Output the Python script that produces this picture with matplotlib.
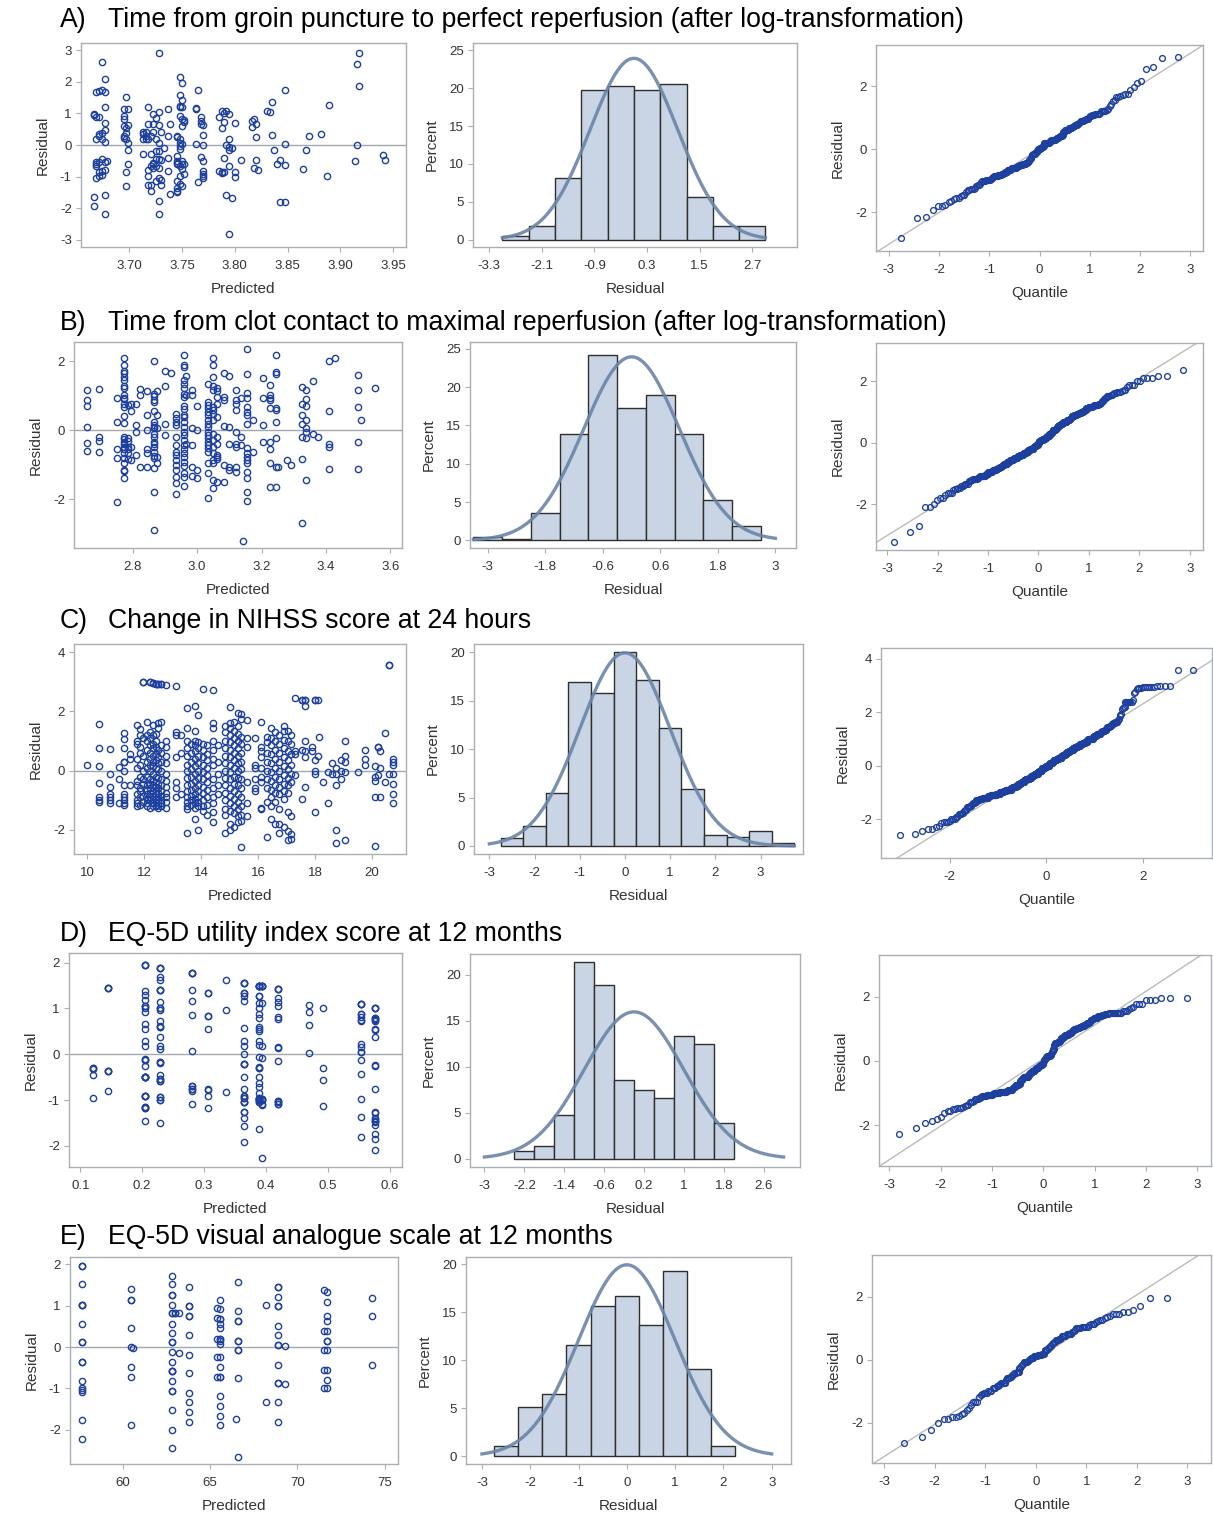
import numpy as np
import matplotlib
matplotlib.use('Agg')
import matplotlib.pyplot as plt
from statistics import NormalDist

plt.rcParams['font.family'] = ['Liberation Sans', 'DejaVu Sans']
plt.rcParams['axes.unicode_minus'] = False

# ---------------- data ----------------
titles = [
    'Time from groin puncture to perfect reperfusion (after log-transformation)',
    'Time from clot contact to maximal reperfusion (after log-transformation)',
    'Change in NIHSS score at 24 hours',
    'EQ-5D utility index score at 12 months',
    'EQ-5D visual analogue scale at 12 months',
]
letters = ['A)', 'B)', 'C)', 'D)', 'E)']

# scatter: (predicted, [residuals at that predicted value]); repeated values = overlapping markers
A_groups = [
    (3.667, [0.97, -1.65, -1.93, 0.95]),
    (3.669, [1.67, 0.9, 0.18, -0.55, -0.61, -0.66, -1.06]),
    (3.672, [1.7, 0.34, 0.28, -0.53, -0.87, -0.98, 0.88]),
    (3.674, [2.62, 1.75, 0.39, 0.2, -0.45, -0.82, -0.95]),
    (3.677, [2.1, 1.67, 1.2, 0.7, 0.46, 0.1, -0.55, -0.8, -1.58, -2.2]),
    (3.679, [-0.52]),
    (3.695, [1.13, 0.92, 0.83, 0.6, 0.28, 0.23]),
    (3.697, [1.53, 0.55, 0.39, 0.18, -0.87, -1.3]),
    (3.699, [1.13, 0.62, 0.07, -0.16, -0.59]),
    (3.713, [0.42, 0.34, 0.18, -0.28]),
    (3.716, [0.42, 0.2, 0.28]),
    (3.718, [1.2, 0.68, 0.18, -0.8, -0.98, -1.27]),
    (3.721, [0.3, -0.28, -0.66, -1.27, -1.45]),
    (3.723, [0.97, 0.68, 0.42, -0.56, -0.61, -0.72]),
    (3.726, [0.87, 0.2, -0.18, -0.45, -0.66, -1.14]),
    (3.728, [2.92, 1.05, 0.62, 0.07, -0.18, -0.45, -0.72, -1.03, -1.77, -2.17]),
    (3.730, [0.42, -0.48, -1.1, -1.27]),
    (3.733, [-0.08]),
    (3.737, [1.13, 0.3, -0.4, -0.83]),
    (3.739, [0.65, -1.56]),
    (3.745, [0.3, 0.25, -0.35, -0.5, -0.56, -0.61, -1.14, -1.36, -1.45, -1.5]),
    (3.748, [2.16, 1.57, 1.25, 1.2, 0.92, 0.18, 0.07, -0.03, -0.12, -0.66, -0.98, -1.24]),
    (3.750, [1.97, 1.42, 1.2, 0.81, 0.6, 0.02, -0.5, -0.61, -0.77, -1.3]),
    (3.752, [0.78, 0.72, -0.6, -0.92]),
    (3.763, [1.16, 1.13, 0.02]),
    (3.765, [1.74, -1.17]),
    (3.768, [0.88, 0.76, 0.68, -0.38]),
    (3.770, [0.62, 0.31, 0.0, -0.5, -0.82, -0.93, -0.98, -1.03]),
    (3.785, [0.9, -0.82]),
    (3.788, [1.07, 0.55, -0.87, -0.9]),
    (3.790, [1.02, 0.73, -0.42, -0.87]),
    (3.792, [1.07, 0.0, -1.57]),
    (3.795, [0.97, 0.2, -0.05, -0.16, -0.66, -2.82]),
    (3.797, [-0.1, -1.69]),
    (3.800, [0.7, -0.87, -1.01]),
    (3.806, [-0.47]),
    (3.816, [0.57, 0.76]),
    (3.818, [0.81, -0.72]),
    (3.820, [0.67, 0.26, -0.47]),
    (3.822, [-0.79]),
    (3.831, [1.09]),
    (3.833, [1.05]),
    (3.835, [1.37, 0.31]),
    (3.837, [-0.16]),
    (3.840, [-0.59]),
    (3.843, [-0.47, -1.8]),
    (3.848, [1.73, 0.04, -0.63, -1.8]),
    (3.865, [-0.75]),
    (3.867, [-0.16]),
    (3.870, [0.28]),
    (3.882, [0.34]),
    (3.887, [-0.98]),
    (3.889, [1.28]),
    (3.914, [-0.52]),
    (3.916, [2.55, 0.0]),
    (3.918, [2.9, 1.88]),
    (3.940, [-0.32]),
    (3.942, [-0.48]),
]

B_groups = [
    (2.657, [1.16, 0.87, 0.69, 0.1, -0.37, -0.6]),
    (2.696, [1.2, -0.19, -0.31, -0.63]),
    (2.750, [0.94, 0.24, -0.55, -0.82, -2.08]),
    (2.774, [2.1, 1.88, 1.73, 1.67, 1.54, 1.45, 1.27, 1.22, 1.03, 0.94, 0.9, 0.75, 0.66,
             0.41, 0.21, -0.19, -0.27, -0.34, -0.41, -0.48, -0.56, -0.67, -0.82, -0.96,
             -1.16, -1.18, -1.4]),
    (2.785, [0.74, -0.24, -0.31, -0.48, -0.56, -0.67, -0.85]),
    (2.795, [0.75, 0.56, -0.5, -0.87]),
    (2.810, [0.75, 0.14, -0.05, -0.72]),
    (2.823, [1.2, 1.01, -1.06]),
    (2.845, [1.14, 0.43, 0.0, -0.55, -0.67, -1.06]),
    (2.865, [2.0, 1.06, 0.98, 0.89, 0.82, 0.55, 0.24, 0.14, 0.1, 0.05, -0.1, -0.19,
             -0.34, -0.39, -0.48, -0.63, -0.75, -0.82, -1.11, -1.79, -2.91]),
    (2.877, [1.14, 0.43, 0.05, -0.77, -0.94]),
    (2.900, [1.72, 1.28, 0.17, -0.14]),
    (2.920, [1.66]),
    (2.935, [0.46, 0.34, 0.24, 0.14, -0.19, -0.43, -0.63, -0.72, -0.87, -1.01, -1.16,
             -1.35, -1.54, -1.86]),
    (2.958, [2.17, 1.88, 1.83, 1.47, 1.35, 1.23, 1.04, 0.96, 0.69, 0.61, 0.45, 0.37,
             0.24, 0.1, -0.05, -0.14, -0.29, -0.43, -0.56, -0.67, -0.77, -0.92, -1.04,
             -1.23, -1.35, -1.62]),
    (2.966, [1.56, 1.03, -0.39]),
    (2.985, [1.16, 1.01, 0.05, -0.43, -1.33, -1.06]),
    (3.000, [0.69, 0.0, -1.16, -1.4]),
    (3.035, [1.35, 0.82, 0.72, 0.63, 0.53, 0.43, 0.31, 0.19, 0.1, -0.05, -0.14, -0.24,
             -0.34, -0.43, -0.53, -0.63, -0.96, -1.25, -1.98]),
    (3.050, [2.1, 1.88, 1.54, 1.27, 1.18, 0.67, 0.58, 0.48, 0.29, -0.1, -0.29, -0.48,
             -0.67, -0.87, -0.96, -1.45, -1.69]),
    (3.062, [1.23, 1.14, 0.96, 0.77, 0.39, -0.19, -0.39, -0.72, -0.77, -0.85, -1.49]),
    (3.085, [1.66, 0.96, 0.87, 0.12, -1.01, -1.49]),
    (3.100, [1.56, 0.1, -0.39, -1.06, -1.16]),
    (3.120, [1.16, 0.87, 0.75, 0.58, -0.05, -0.39, -0.48, -1.06, -1.2]),
    (3.135, [0.92, -0.19, -0.43]),
    (3.143, [-3.21]),
    (3.155, [2.36, 1.64, 1.08, 0.92, 0.67, 0.53, 0.43, 0.17, -0.53, -0.67, -0.77,
             -0.87, -0.96, -1.2, -1.38, -1.78, -2.07]),
    (3.175, [0.29, -0.63]),
    (3.205, [1.52, 0.94, 0.14, -0.34]),
    (3.225, [1.3, 1.01, 0.94, 0.87, 0.63, -0.94, -1.64, -0.34, -0.56]),
    (3.245, [2.17, 1.69, 1.64, 0.63, 0.58, 0.24, -0.24, -1.06, -1.64]),
    (3.252, [-1.06]),
    (3.280, [-0.87]),
    (3.292, [-1.01]),
    (3.325, [1.25, 0.77, 0.43, 0.17, -0.19, -0.85, -2.7]),
    (3.338, [1.16, 0.9, 0.69, 0.29, 0.05, -0.05, -0.24, -1.45]),
    (3.360, [1.43, -0.1]),
    (3.376, [-0.19]),
    (3.410, [2.0, 0.55, -0.4, -0.48, -1.14]),
    (3.427, [2.1]),
    (3.500, [1.59, 1.16, 0.67, -0.34, -1.14]),
    (3.508, [0.29]),
    (3.552, [1.23]),
]

C_groups = [
    (10.0, [0.2]),
    (10.4, [1.57, 0.77, 0.17, -0.43, -0.9, -1.0, -1.05]),
    (10.8, [0.72, -0.1, -0.55, -0.8, -0.9, -1.0, -1.1]),
    (11.1, [0.12, -0.3, -1.1]),
    (11.3, [1.28, 1.06, 0.75, 0.3, 0.28, 0.0, -0.5, -0.8, -0.9, -1.0, -1.1, -1.15]),
    (11.5, [0.55, 0.4, -0.5]),
    (11.75, [1.55, 1.0, 0.9, 0.4, 0.1, -0.35, -0.5, -0.8, -1.0, -1.1, -1.2]),
    (11.85, [1.4, 1.2, 0.8, 0.6, 0.2, -0.2, -0.6, -0.7, -0.9, -1.15]),
    (11.95, [2.98, 2.98, 1.1, 0.5, 0.0, -0.3, -0.45, -0.85, -1.05]),
    (12.1, [1.65, 1.2, 1.0, 0.7, 0.3, 0.1, -0.2, -0.5, -0.65, -0.8, -0.95, -1.1, -1.2]),
    (12.2, [2.98, 2.98, 1.3, 1.1, 0.85, 0.6, 0.4, 0.2, 0.0, -0.3, -0.45, -0.6, -0.75,
            -0.9, -1.0, -1.25]),
    (12.3, [2.95, 2.95, 1.55, 1.2, 0.9, 0.75, 0.5, 0.3, 0.15, -0.1, -0.35, -0.5, -0.7,
            -0.85, -0.95, -1.1, -1.2]),
    (12.4, [2.93, 2.93, 1.25, 1.0, 0.8, 0.55, 0.35, 0.1, -0.2, -0.4, -0.55, -0.7, -0.8,
            -0.95, -1.05, -1.2]),
    (12.5, [2.93, 2.93, 1.6, 1.45, 0.7, 0.45, 0.25, 0.05, -0.25, -0.45, -0.6, -0.75,
            -0.9, -1.0, -1.15, -1.25]),
    (12.6, [2.92, 2.92, 1.65, 0.85, 0.6, 0.3, 0.0, -0.3, -0.5, -0.7, -0.85, -1.0, -1.1,
            -1.2]),
    (12.75, [2.9, 1.0, 0.8, 0.5, 0.25, -0.1, -0.35, -0.55, -0.75, -0.9, -1.05, -1.25]),
    (13.1, [2.85, 1.3, 1.2, 0.45, -0.4, -0.6, -0.9]),
    (13.3, [1.2, 0.6, -0.8]),
    (13.5, [2.12, 1.45, 1.0, 0.75, 0.5, 0.2, 0.0, -0.25, -0.5, -0.7, -0.9, -1.05, -1.2,
            -1.3, -2.1]),
    (13.65, [0.9, 0.6, 0.3, 0.05, -0.2, -0.45, -0.65, -0.85, -1.0, -1.15]),
    (13.8, [2.2, 1.35, 1.0, 0.85, 0.65, 0.4, 0.15, -0.1, -0.35, -0.6, -0.8, -0.95, -1.1,
            -1.25, -1.65]),
    (13.9, [1.87, 0.95, 0.75, 0.5, 0.25, 0.0, -0.25, -0.5, -0.7, -0.9, -1.05, -1.2, -2.0]),
    (14.05, [2.75, 0.9, 0.7, 0.45, 0.2, -0.05, -0.3, -0.55, -0.75, -1.0, -1.2, -1.35]),
    (14.2, [0.85, 0.55, 0.35, 0.1, -0.15, -0.4, -0.65, -0.9, -1.15, -1.5]),
    (14.4, [2.72, 1.6, 1.45, 1.0, 0.7, 0.4, 0.2, -0.3, -0.6, -0.9, -1.1, -1.4, -1.75]),
    (14.6, [0.85, 0.3, -0.1, -0.5, -0.8]),
    (14.85, [1.5, 1.3, 1.0, 0.75, 0.5, 0.25, 0.0, -0.25, -0.5, -0.75, -1.0, -1.3, -1.5,
             -2.1]),
    (15.0, [2.15, 1.6, 1.45, 1.2, 0.95, 0.7, 0.45, 0.2, -0.05, -0.3, -0.6, -0.85, -1.1,
            -1.35, -1.8, -2.0]),
    (15.15, [1.65, 1.35, 1.1, 0.85, 0.6, 0.35, 0.1, -0.2, -0.45, -0.7, -0.95, -1.2, -1.45,
             -1.9]),
    (15.3, [1.95, 1.5, 1.25, 1.0, 0.75, 0.5, 0.25, 0.0, -0.25, -0.5, -0.8, -1.05, -1.3,
            -1.55, -1.75]),
    (15.4, [1.9, 1.75, 1.15, 0.9, 0.6, 0.3, 0.05, -0.3, -0.6, -0.9, -1.2, -1.5, -1.7, -2.6]),
    (15.6, [1.72, 1.1, 0.8, -0.4, -1.1, -1.55]),
    (15.9, [1.1, 0.2, 0.1, -0.3, -0.6, -0.7]),
    (16.1, [1.65, 0.8, 0.65, 0.45, 0.1, -0.2, -0.4, -1.25, -1.3]),
    (16.3, [1.15, 0.95, 0.6, 0.3, 0.0, -0.3, -0.6, -1.05, -2.25]),
    (16.45, [1.45, 1.1, 0.85, 0.55, 0.25, -0.05, -0.35, -0.65, -0.9, -1.2, -1.65]),
    (16.6, [1.3, 1.0, 0.7, 0.4, 0.1, -0.2, -0.5, -0.75, -1.05, -1.8]),
    (16.75, [1.2, 0.9, 0.6, 0.3, 0.0, -0.3, -0.55, -0.8, -1.3, -1.8, -2.1]),
    (16.9, [1.5, 1.35, 1.05, 0.75, 0.45, 0.15, -0.15, -0.45, -0.7, -0.95, -1.9]),
    (17.05, [1.35, 1.0, 0.65, 0.35, 0.05, -0.25, -0.5, -0.75, -1.4, -2.05, -2.35]),
    (17.15, [1.2, 0.9, 0.55, 0.2, -0.1, -0.4, -1.55, -2.15, -2.3]),
    (17.3, [2.45, 0.65, 0.55, -0.15]),
    (17.55, [2.4, 2.4, 0.7, -0.95]),
    (17.65, [2.4, 2.4, 2.2, 1.0, 0.65, 0.45, -0.55]),
    (17.9, [0.8, 0.65]),
    (18.0, [2.38, 2.38, 0.35, 0.0, -0.1, -1.4]),
    (18.1, [2.38, 0.5]),
    (18.15, [1.15]),
    (18.3, [-0.4]),
    (18.45, [-0.05, -1.1]),
    (18.6, [0.25, -0.1]),
    (18.75, [0.1, -0.1, -0.5, -2.0, -2.45]),
    (18.9, [0.35, 0.0, -0.3]),
    (19.05, [1.0, 0.5, 0.3, -0.05, -2.35]),
    (19.5, [-0.05]),
    (19.75, [0.7, 0.4, 0.2]),
    (20.1, [0.15, -0.2, -0.35, -0.9, -2.55]),
    (20.2, [0.8, 0.8, -0.15]),
    (20.3, [0.65, 0.1, -0.9]),
    (20.45, [1.27, -0.4]),
    (20.6, [3.57, 3.57, -0.1]),
    (20.75, [0.4, 0.3, 0.2, -0.1, -0.45, -0.8, -1.1]),
]

D_groups = [
    (0.120, [-0.3, -0.3, -0.33, -0.45, -0.95]),
    (0.145, [1.45, 1.45, 1.45, -0.37, -0.37, -0.37, -0.8]),
    (0.205, [1.95, 1.95, 1.95, 1.38, 1.3, 1.18, 1.05, 1.05, 1.0, 0.92, 0.65, 0.55, 0.28,
             0.17, -0.1, -0.12, -0.12, -0.25, -0.5, -0.5, -0.5, -0.5, -0.5, -0.5, -0.9,
             -0.9, -0.9, -0.9, -1.15, -1.15, -1.18, -1.18, -1.45]),
    (0.229, [1.88, 1.88, 1.88, 1.68, 1.62, 1.4, 1.4, 1.4, 1.15, 1.0, 1.0, 0.97, 0.72,
             0.62, 0.6, 0.6, 0.38, 0.17, 0.12, -0.17, -0.17, -0.18, -0.45, -0.53, -0.53,
             -0.58, -0.58, -0.93, -0.93, -1.0, -1.0, -1.5]),
    (0.281, [1.78, 1.78, 1.78, 1.4, 1.17, 0.86, 0.08, -0.7, -0.7, -0.75, -0.75, -0.8,
             -1.08]),
    (0.307, [1.33, 1.33, 0.83, 0.83, 0.56, -0.75, -0.78, -0.9, -1.17]),
    (0.335, [1.63, 0.97, -0.83]),
    (0.365, [1.55, 1.55, 1.55, 1.33, 1.33, 1.27, 1.17, 0.58, 0.28, 0.17, 0.0, -0.22,
             -0.22, -0.22, -0.5, -0.75, -0.9, -0.9, -0.95, -0.95, -1.05, -1.05, -1.05,
             -1.27, -1.27, -1.4, -1.56, -1.92]),
    (0.389, [1.5, 1.5, 1.5, 1.5, 1.5, 1.5, 1.27, 1.27, 1.12, 1.0, 0.88, 0.8, 0.6, 0.55,
             0.5, 0.3, 0.2, -0.05, -0.28, -0.3, -0.3, -0.5, -0.62, -0.72, -0.85, -0.95,
             -0.95, -0.97, -0.97, -1.0, -1.0, -1.0, -1.05, -1.05, -1.62]),
    (0.393, [1.5, 1.5, 1.5, 1.5, 1.12, 0.18, -0.08, -0.97, -0.97, -1.0, -1.0, -1.08,
             -1.1, -2.27]),
    (0.419, [1.43, 1.43, 1.43, 1.22, 1.15, 1.05, 0.82, 0.78, 0.15, 0.13, -0.14, -1.02,
             -1.02, -1.05, -1.08, -1.08]),
    (0.470, [1.08, 0.92, 0.64, 0.03]),
    (0.493, [1.02, -0.3, -0.56, -1.12]),
    (0.554, [1.1, 1.1, 1.1, 0.88, 0.88, 0.82, 0.75, 0.72, 0.22, 0.15, 0.06, 0.05, -0.12,
             -0.42, -0.97, -1.37, -1.8]),
    (0.577, [1.02, 1.02, 1.02, 0.8, 0.8, 0.78, 0.75, 0.72, 0.56, 0.52, 0.38, -0.23,
             -0.25, -0.75, -1.25, -1.28, -1.38, -1.42, -1.45, -1.45, -1.48, -1.55, -1.75,
             -1.85, -2.08]),
]

E_groups = [
    (57.7, [1.97, 1.97, 1.52, 1.03, 1.03, 1.03, 0.57, 0.12, 0.12, -0.37, -0.37, -0.82,
            -1.0, -1.05, -1.08, -1.77, -2.22]),
    (60.5, [1.4, 1.15, 1.15, 0.45, 0.0, -0.49, -0.73, -1.88]),
    (60.6, [-0.02]),
    (62.8, [1.72, 1.52, 1.27, 1.27, 1.03, 0.82, 0.82, 0.57, 0.33, 0.12, 0.12, -0.12,
            -0.37, -0.57, -0.57, -0.57, -0.82, -1.06, -1.06, -1.52, -2.0, -2.45]),
    (63.0, [0.82, 0.82]),
    (63.2, [0.82, -0.15]),
    (63.8, [1.45, 1.0, 1.0, 0.75, 0.75, 0.3, -0.18, -0.63, -1.12, -1.34, -1.58, -1.82]),
    (65.4, [0.95, 0.7, 0.2, -0.24, -0.73]),
    (65.6, [1.15, 0.92, 0.68, 0.68, 0.55, 0.45, 0.2, 0.2, 0.15, 0.07, -0.24, -0.48,
            -0.73, -0.73, -1.18, -1.42, -1.67, -1.88]),
    (66.5, [-1.73]),
    (66.6, [1.58, 0.88, 0.63, 0.63, 0.15, 0.15, -0.07, -0.07, -0.76, -2.65]),
    (68.2, [1.03, -1.34]),
    (68.9, [1.45, 1.45, 1.22, 1.0, 1.0, 0.52, 0.3, 0.06, 0.06, -0.43, -0.88, -0.88,
            -1.34, -1.82]),
    (69.3, [0.03, -0.9]),
    (71.5, [1.37, 0.39, -0.07, -0.55, -1.0]),
    (71.7, [1.34, 1.1, 0.75, 0.63, 0.39, 0.15, 0.15, -0.07, -0.55, -0.79, -1.0]),
    (74.3, [1.19, 0.76, -0.43]),
]

# histograms: bin midpoints and percent
A_mid = [-2.7, -2.1, -1.5, -0.9, -0.3, 0.3, 0.9, 1.5, 2.1, 2.7]
A_pct = [0.5, 1.8, 8.2, 19.8, 20.3, 19.8, 20.6, 5.6, 1.8, 1.8]
B_mid = [-3.0, -2.4, -1.8, -1.2, -0.6, 0.0, 0.6, 1.2, 1.8, 2.4]
B_pct = [0.4, 0.2, 3.6, 13.9, 24.2, 17.3, 18.9, 13.9, 5.2, 1.9]
C_mid = [-2.5, -2.0, -1.5, -1.0, -0.5, 0.0, 0.5, 1.0, 1.5, 2.0, 2.5, 3.0, 3.5]
C_pct = [0.8, 2.1, 5.5, 16.9, 15.8, 20.0, 17.1, 12.2, 5.9, 1.1, 0.9, 1.5, 0.3]
D_mid = [-2.2, -1.8, -1.4, -1.0, -0.6, -0.2, 0.2, 0.6, 1.0, 1.4, 1.8]
D_pct = [0.8, 1.35, 4.7, 21.4, 18.9, 8.6, 7.5, 6.6, 13.3, 12.5, 3.9]
E_mid = [-2.5, -2.0, -1.5, -1.0, -0.5, 0.0, 0.5, 1.0, 1.5, 2.0]
E_pct = [1.0, 5.1, 6.5, 11.6, 15.7, 16.7, 13.7, 19.3, 9.1, 1.0]

bin_widths = [0.6, 0.6, 0.5, 0.4, 0.5]
curve_span = [(-3.0, 3.0), (-3.3, 3.0), (-3.0, 3.75), (-3.0, 3.0), (-3.0, 3.0)]

hist_xticks = [
    [-3.3, -2.1, -0.9, 0.3, 1.5, 2.7],
    [-3, -1.8, -0.6, 0.6, 1.8, 3],
    [-3, -2, -1, 0, 1, 2, 3],
    [-3, -2.2, -1.4, -0.6, 0.2, 1, 1.8, 2.6],
    [-3, -2, -1, 0, 1, 2, 3],
]

# ---------------- layout (pixel boxes: left, top, right, bottom) ----------------
W, H = 1213, 1514
boxes = [
    [(81, 43, 406, 247), (473, 43, 797, 247), (876, 45, 1203, 251)],
    [(74, 342, 402, 548), (470, 342, 796, 548), (876, 343, 1203, 550)],
    [(74, 644, 406, 854), (474, 644, 803, 854), (881, 648, 1212, 858)],
    [(69, 953, 402, 1167), (470, 954, 800, 1167), (879, 955, 1211, 1166)],
    [(70, 1257, 398, 1464), (466, 1257, 791, 1464), (872, 1255, 1211, 1463)],
]
title_y = [20, 323, 621, 934, 1237]

sc_xlim = [(3.6546, 3.962), (2.618, 3.636), (9.53, 21.2), (0.0817, 0.62), (56.99, 75.76)]
sc_ylim = [(-3.23, 3.23), (-3.42, 2.56), (-2.82, 4.28), (-2.46, 2.21), (-2.83, 2.18)]
sc_xticks = [np.arange(3.70, 3.951, 0.05), [2.8, 3.0, 3.2, 3.4, 3.6],
             [10, 12, 14, 16, 18, 20], [0.1, 0.2, 0.3, 0.4, 0.5, 0.6], [60, 65, 70, 75]]
sc_xfmt = ['{:.2f}', '{:.1f}', '{:.0f}', '{:.1f}', '{:.0f}']
sc_yticks = [[-3, -2, -1, 0, 1, 2, 3], [-2, 0, 2], [-2, 0, 2, 4], [-2, -1, 0, 1, 2],
             [-2, -1, 0, 1, 2]]

hi_xlim = [(-3.67, 3.72), (-3.37, 3.43), (-3.34, 3.94), (-3.29, 3.33), (-3.33, 3.4)]
hi_ylim = [(-0.96, 25.96), (-1.0, 25.87), (-0.83, 20.86), (-0.91, 22.25), (-0.83, 20.76)]
hi_yticks = [[0, 5, 10, 15, 20, 25], [0, 5, 10, 15, 20, 25], [0, 5, 10, 15, 20],
             [0, 5, 10, 15, 20], [0, 5, 10, 15, 20]]

qq_xlim = [(-3.25, 3.25), (-3.22, 3.26), (-3.42, 3.43), (-3.2, 3.27), (-3.24, 3.47)]
qq_ylim = [(-3.24, 3.31), (-3.48, 3.25), (-3.45, 4.4), (-3.26, 3.29), (-3.27, 3.33)]
qq_xticks = [[-3, -2, -1, 0, 1, 2, 3], [-3, -2, -1, 0, 1, 2, 3], [-2, 0, 2],
             [-3, -2, -1, 0, 1, 2, 3], [-3, -2, -1, 0, 1, 2, 3]]
qq_yticks = [[-2, 0, 2], [-2, 0, 2], [-2, 0, 2, 4], [-2, 0, 2], [-2, 0, 2]]

# ---------------- style ----------------
MARK = '#1D3F9E'
FRAME = '#A9AFB5'
TXT = '#333333'
FILL = '#C9D5E5'
EDGE = '#2E2E2E'
CURVE = '#6A84A8'
REF = '#A3A8AD'
TICK_FS = 9.5
LAB_FS = 11


def add_ax(fig, box):
    l, t, r, b = box
    ax = fig.add_axes([l / W, 1 - b / H, (r - l) / W, (b - t) / H])
    for s in ax.spines.values():
        s.set_color(FRAME)
        s.set_linewidth(1.0)
    ax.tick_params(direction='out', length=3.6, width=0.8, color=FRAME,
                   labelcolor=TXT, labelsize=TICK_FS)
    ax.tick_params(axis='x', pad=6)
    ax.tick_params(axis='y', pad=3)
    return ax


def labels(ax, xl, yl):
    ax.set_xlabel(xl, fontsize=LAB_FS, color=TXT, labelpad=7)
    ax.set_ylabel(yl, fontsize=LAB_FS, color=TXT, labelpad=7)


def fmt_num(v):
    return '{:g}'.format(round(v, 2))


fig = plt.figure(figsize=(W / 100, H / 100), dpi=100)

all_groups = [A_groups, B_groups, C_groups, D_groups, E_groups]
all_mid = [A_mid, B_mid, C_mid, D_mid, E_mid]
all_pct = [A_pct, B_pct, C_pct, D_pct, E_pct]

for i in range(5):
    pred = np.concatenate([[g[0]] * len(g[1]) for g in all_groups[i]])
    resid = np.concatenate([g[1] for g in all_groups[i]])

    # row title
    fig.text(60 / W, 1 - title_y[i] / H, letters[i], fontsize=19.2, va='center', ha='left')
    fig.text(108 / W, 1 - title_y[i] / H, titles[i], fontsize=19.2, va='center', ha='left')

    # residual vs predicted
    ax = add_ax(fig, boxes[i][0])
    ax.axhline(0, color=REF, lw=1.0, zorder=1)
    ax.plot(pred, resid, 'o', mfc='none', mec=MARK, ms=4.5, mew=1.0, zorder=2)
    ax.set_xlim(*sc_xlim[i])
    ax.set_ylim(*sc_ylim[i])
    ax.set_xticks(sc_xticks[i])
    ax.set_xticklabels([sc_xfmt[i].format(v) for v in sc_xticks[i]])
    ax.set_yticks(sc_yticks[i])
    ax.set_yticklabels([str(v) for v in sc_yticks[i]])
    labels(ax, 'Predicted', 'Residual')

    # histogram with fitted normal curve
    ax = add_ax(fig, boxes[i][1])
    w = bin_widths[i]
    ax.bar(all_mid[i], all_pct[i], width=w, color=FILL, edgecolor=EDGE, linewidth=1.0,
           zorder=2)
    xs = np.linspace(curve_span[i][0], curve_span[i][1], 300)
    mu, sd = 0.0, 1.0
    ys = 100 * w * np.exp(-0.5 * ((xs - mu) / sd) ** 2) / (sd * np.sqrt(2 * np.pi))
    ax.plot(xs, ys, color=CURVE, lw=2.4, alpha=0.9, zorder=3)
    ax.set_xlim(*hi_xlim[i])
    ax.set_ylim(*hi_ylim[i])
    ax.set_xticks(hist_xticks[i])
    ax.set_xticklabels([fmt_num(v) for v in hist_xticks[i]])
    ax.set_yticks(hi_yticks[i])
    labels(ax, 'Residual', 'Percent')

    # normal quantile plot
    ax = add_ax(fig, boxes[i][2])
    r = np.sort(resid)
    n = len(r)
    nd = NormalDist()
    q = np.array([nd.inv_cdf((k - 0.375) / (n + 0.25)) for k in range(1, n + 1)])
    m, s = r.mean(), r.std(ddof=1)
    lx = np.array(qq_xlim[i])
    ax.plot(lx, m + s * lx, color='#BBBBBB', lw=1.0, zorder=1)
    ax.plot(q, r, 'o', mfc='none', mec=MARK, ms=4.2, mew=0.95, zorder=2)
    ax.set_xlim(*qq_xlim[i])
    ax.set_ylim(*qq_ylim[i])
    ax.set_xticks(qq_xticks[i])
    ax.set_yticks(qq_yticks[i])
    labels(ax, 'Quantile', 'Residual')

fig.savefig('out.png', dpi=100)
